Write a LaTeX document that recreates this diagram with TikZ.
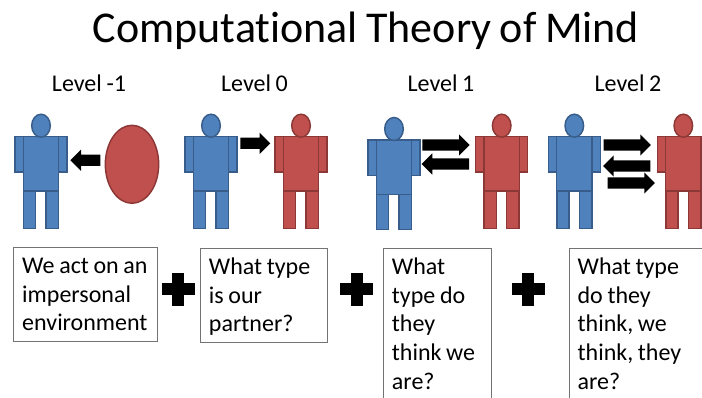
\documentclass[tikz,border=0pt]{standalone}
\usepackage{fontspec}
\setmainfont[Ligatures={NoCommon},WordSpace=0.85]{Carlito}
\usetikzlibrary{shapes.geometric,shapes.arrows}

\definecolor{figblue}{HTML}{4F81BD}
\definecolor{figblueline}{HTML}{385D8A}
\definecolor{figred}{HTML}{C0504D}
\definecolor{figredline}{HTML}{8C3836}

\tikzset{
	bluefig/.style={fill=figblue,draw=figblueline,line width=1.1pt},
	redfig/.style={fill=figred,draw=figredline,line width=1.1pt},
	pics/person/.default=92,
	pics/person/.style={code={
		\path[pic actions] (-26,0) rectangle (-17.7,35.5);
		\path[pic actions] (17.7,0) rectangle (26,35.5);
		\path[pic actions] (-17.5,54.5) rectangle (-5.3,#1);
		\path[pic actions] (5,54.5) rectangle (17.5,#1);
		\path[pic actions] (-17.7,0) rectangle (17.7,54.5);
		\path[pic actions] (0,-11) ellipse [x radius=9.3,y radius=11.5];
	}},
	rightarrow/.style={shape=single arrow,fill=black,inner xsep=0pt,inner ysep=4pt,
		single arrow head extend=3.75pt,anchor=tail},
	leftarrow/.style={rightarrow,shape border rotate=180},
	shortarrow/.style={minimum height=22.5pt},
	longarrow/.style={minimum height=35.5pt},
	levellabel/.style={font=\fontsize{18}{21.45}\selectfont,anchor=base},
	textbox/.style={draw=black!55,line width=0.8pt,anchor=north west,align=flush left,
		font=\fontsize{18}{21.45}\selectfont,inner xsep=6.3pt,inner ysep=4.7pt,
		execute at begin node=\rule{0pt}{15pt},
		execute at end node=\rule[-3.5pt]{0pt}{3.5pt}},
	plusbar/.style={fill=black},
}

\begin{document}
\begin{tikzpicture}[x=0.75pt,y=-0.75pt]
	\useasboundingbox (0,0) rectangle (702,398);
	\clip (0,0) rectangle (702,398);

	\node[font=\fontsize{33}{40}\selectfont,anchor=base] (title) at (366,43) {Computational Theory of Mind};

	\node[levellabel] (level-1) at (89,92) {Level -1};
	\node[levellabel] (level0) at (254.5,92) {Level 0};
	\node[levellabel] (level1) at (441,92) {Level 1};
	\node[levellabel] (level2) at (628,92) {Level 2};

	\pic[bluefig] (we-1) at (41,136.7) {person};
	\pic[bluefig] (we0) at (211,136.7) {person};
	\pic[redfig] (they0) at (301,136.7) {person};
	\pic[bluefig] (we1) at (394,140) {person=89.5};
	\pic[redfig] (they1) at (501.7,136.7) {person};
	\pic[bluefig] (we2) at (574.3,136.7) {person};
	\pic[redfig] (they2) at (683.3,136.7) {person};
	\node[shape=ellipse,fill=figred,draw=figredline,line width=1.1pt,inner sep=0pt,
		minimum width=40pt,minimum height=58.5pt] (env) at (132,164.3) {};

	\node[leftarrow,shortarrow] (arrow-1) at (100.7,160.3) {};
	\node[rightarrow,shortarrow] (arrow0) at (240,143.3) {};
	\node[rightarrow,longarrow] (arrow1a) at (422,145) {};
	\node[leftarrow,longarrow] (arrow1b) at (469.3,164) {};
	\node[rightarrow,longarrow] (arrow2a) at (603.3,145) {};
	\node[leftarrow,longarrow] (arrow2b) at (650.7,166) {};
	\node[rightarrow,longarrow] (arrow2c) at (607.3,183) {};

	\node[textbox,text width=95.2pt] (box-1) at (13.3,247) {We act on an\\impersonal\\environment};
	\node[textbox,text width=82.4pt] (box0) at (200,248) {What type\\is our\\partner?};
	\node[textbox,text width=68.6pt] (box1) at (383,248) {What\\type do\\they\\think we\\are?};
	\node[textbox,text width=110pt] (box2) at (568.7,248) {What type\\do they\\think, we\\think, they\\are?};

	\foreach \x in {178.3,356.7,528.3} {
		\fill[plusbar] (\x-16.7,283.3) rectangle (\x+16.7,295.3);
		\fill[plusbar] (\x-6,272.6) rectangle (\x+6,306);
	}
\end{tikzpicture}
\end{document}
